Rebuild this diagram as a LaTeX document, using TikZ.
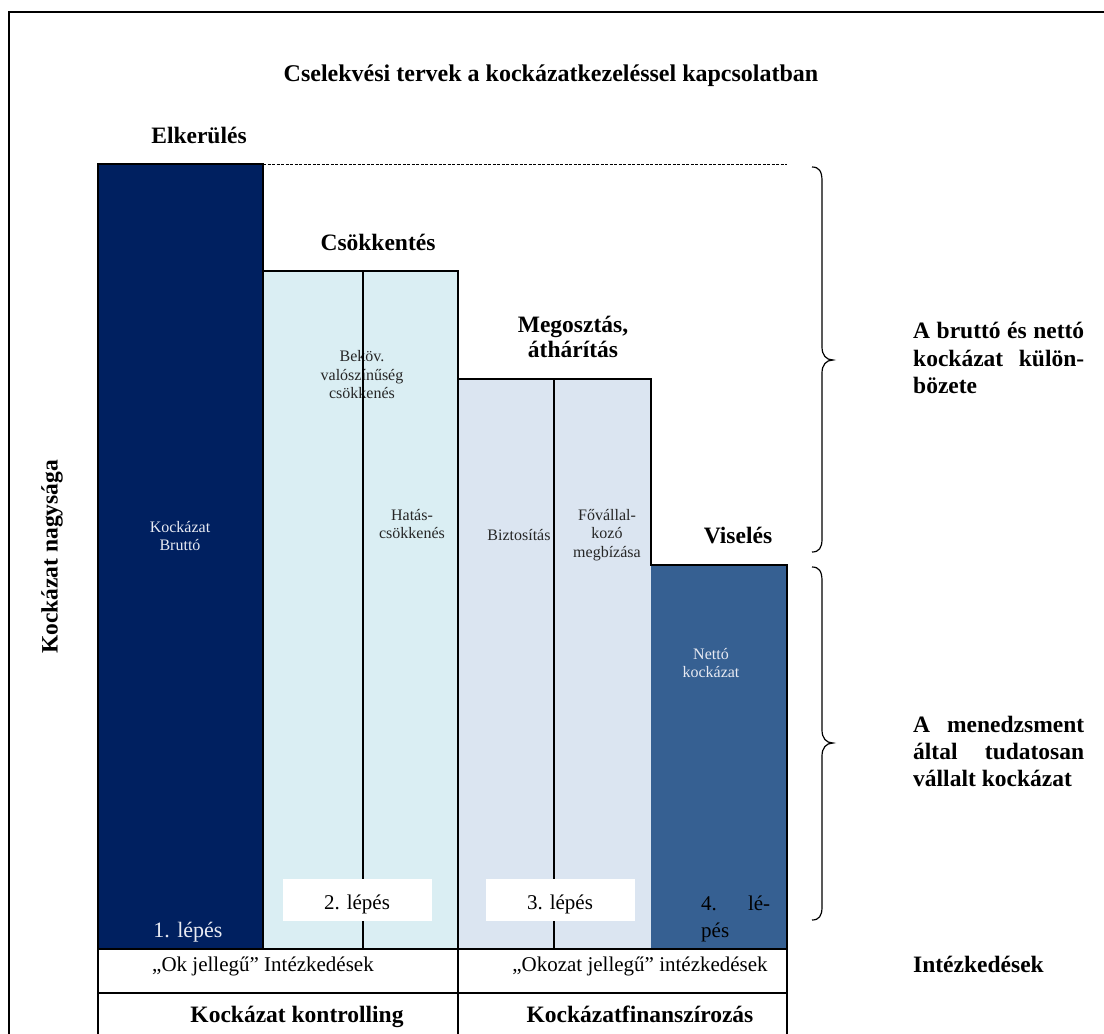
\documentclass[tikz,border=0pt]{standalone}
\usepackage{fontspec}
\setmainfont{Liberation Serif}
\definecolor{navy}{RGB}{0,32,96}
\definecolor{lblue}{RGB}{218,238,243}
\definecolor{lgray}{RGB}{219,229,241}
\definecolor{mblue}{RGB}{54,96,146}
\definecolor{pale}{RGB}{232,234,242}
\begin{document}
\begin{tikzpicture}[x=1pt,y=-1pt,
  hd/.style={font=\fontsize{23.5}{27}\selectfont\bfseries, inner sep=0pt},
  sm/.style={font=\fontsize{16}{18.5}\selectfont, inner sep=0pt, align=center, text=black!85},
  smw/.style={sm, text=pale},
  lbl/.style={font=\fontsize{21}{25}\selectfont, inner sep=0pt},
  bord/.style={line width=1.5pt},
  divl/.style={line width=1.3pt},
  brc/.style={line width=1.2pt},
  wbox/.style={fill=white, draw=none, inner sep=0pt, minimum width=149pt, minimum height=42pt}]
\useasboundingbox (0,0) rectangle (1104,1034);
\fill[white] (0,0) rectangle (1104,1034);
% outer frame (cropped on right and bottom)
\draw[line width=1.5pt] (9,1060) -- (9,12) -- (1130,12);

% title and headings
\node[hd, font=\fontsize{24}{28}\selectfont\bfseries, anchor=base] (title) at (551,81) {Cselekvési tervek a kockázatkezeléssel kapcsolatban};
\node[hd, anchor=base] (elk) at (199,143) {Elkerülés};
\node[hd, anchor=base] (csok) at (378,250) {Csökkentés};
\node[hd, anchor=base] (meg1) at (573,332) {Megosztás,};
\node[hd, anchor=base] (meg2) at (573,357) {áthárítás};
\node[hd, anchor=base] (vis) at (738,543) {Viselés};
\node[hd, rotate=90] (ylab) at (52,557) {Kockázat nagysága};

% dashed level line
\coordinate (d0) at (263,164);
\coordinate (d1) at (787,164);
\draw[line width=0.7pt, dash pattern=on 3pt off 1.5pt] (d0) -- (d1);

% bars
\fill[navy] (98,164) rectangle (263,949);
\fill[lblue] (263,271) rectangle (458,949);
\fill[lgray] (458,379) rectangle (651,949);
\fill[mblue] (651,565) rectangle (787,949);
\draw[bord] (98,949) -- (98,164) -- (263,164) -- (263,949);
\draw[bord] (263,271) -- (458,271) -- (458,949);
\draw[bord] (458,379) -- (651,379) -- (651,565) -- (787,565) -- (787,949);

% texts inside bars
\node[smw] (kb) at (180,536) {Kockázat\\Bruttó};
\node[sm] (bek) at (362,375) {Beköv.\\valószínűség\\csökkenés};
\node[sm] (hat) at (412,524) {Hatás-\\csökkenés};
\node[sm] (bizt) at (519,535) {Biztosítás};
\node[sm] (fov) at (607,535) {Fővállal-\\kozó\\megbízása};
\node[smw] (net) at (711,663) {Nettó\\kockázat};

% dividers
\draw[divl] (363,271) -- (363,949);
\draw[divl] (554,379) -- (554,949);

% step labels
\node[lbl, font=\fontsize{22}{26}\selectfont, text=pale, anchor=base] (l1) at (188,937) {1. lépés};
\node[wbox] (b2) at (357.5,900) {};
\node[wbox] (b3) at (560.5,900) {};
\begin{scope}
  \clip (283,879) rectangle (432,913);
  \node[lbl, anchor=base] (l2) at (357,909) {2. lépés};
\end{scope}
\begin{scope}
  \clip (486,879) rectangle (635,913);
  \node[lbl, anchor=base] (l3) at (560,909) {3. lépés};
\end{scope}
\node[lbl, anchor=base west] (l4a) at (701,910) {\makebox[69pt][s]{4. lé-}};
\node[lbl, anchor=base west] (l4b) at (701,937) {pés};

% table
\draw[bord] (98,949) -- (787,949);
\draw[bord] (98,993) -- (787,993);
\draw[bord] (98,949) -- (98,1060);
\draw[bord] (458,949) -- (458,1060);
\draw[bord] (787,949) -- (787,1060);
\node[lbl, anchor=base] (ok) at (263,971) {„Ok jellegű” Intézkedések};
\node[lbl, anchor=base] (okz) at (640,971) {„Okozat jellegű” intézkedések};
\node[hd, anchor=base] (kk) at (297,1022) {Kockázat kontrolling};
\node[hd, anchor=base] (kf) at (640,1022) {Kockázatfinanszírozás};

% braces
\draw[brc] (812,167) .. controls (819,167) and (822,171) .. (822,181) -- (822,347)
  .. controls (822,355) and (826,360) .. (833,360)
  .. controls (826,360) and (822,365) .. (822,373) -- (822,539)
  .. controls (822,548) and (819,552) .. (812,552);
\draw[brc] (812,567) .. controls (819,567) and (822,571) .. (822,581) -- (822,730)
  .. controls (822,738) and (826,743) .. (833,743)
  .. controls (826,743) and (822,748) .. (822,756) -- (822,907)
  .. controls (822,916) and (819,920) .. (812,920);

% right-hand labels
\node[hd, anchor=base west] (rb1) at (913,338) {\makebox[171pt][s]{A bruttó és nettó}};
\node[hd, anchor=base west] (rb2) at (913,366) {\makebox[171pt][s]{kockázat külön-}};
\node[hd, anchor=base west] (rb3) at (913,393) {bözete};
\node[hd, anchor=base west] (rm1) at (913,732) {\makebox[171pt][s]{A menedzsment}};
\node[hd, anchor=base west] (rm2) at (913,759) {\makebox[171pt][s]{által tudatosan}};
\node[hd, anchor=base west] (rm3) at (913,786) {vállalt kockázat};
\node[hd, anchor=base west] (intz) at (913,972) {Intézkedések};
\end{tikzpicture}
\end{document}
